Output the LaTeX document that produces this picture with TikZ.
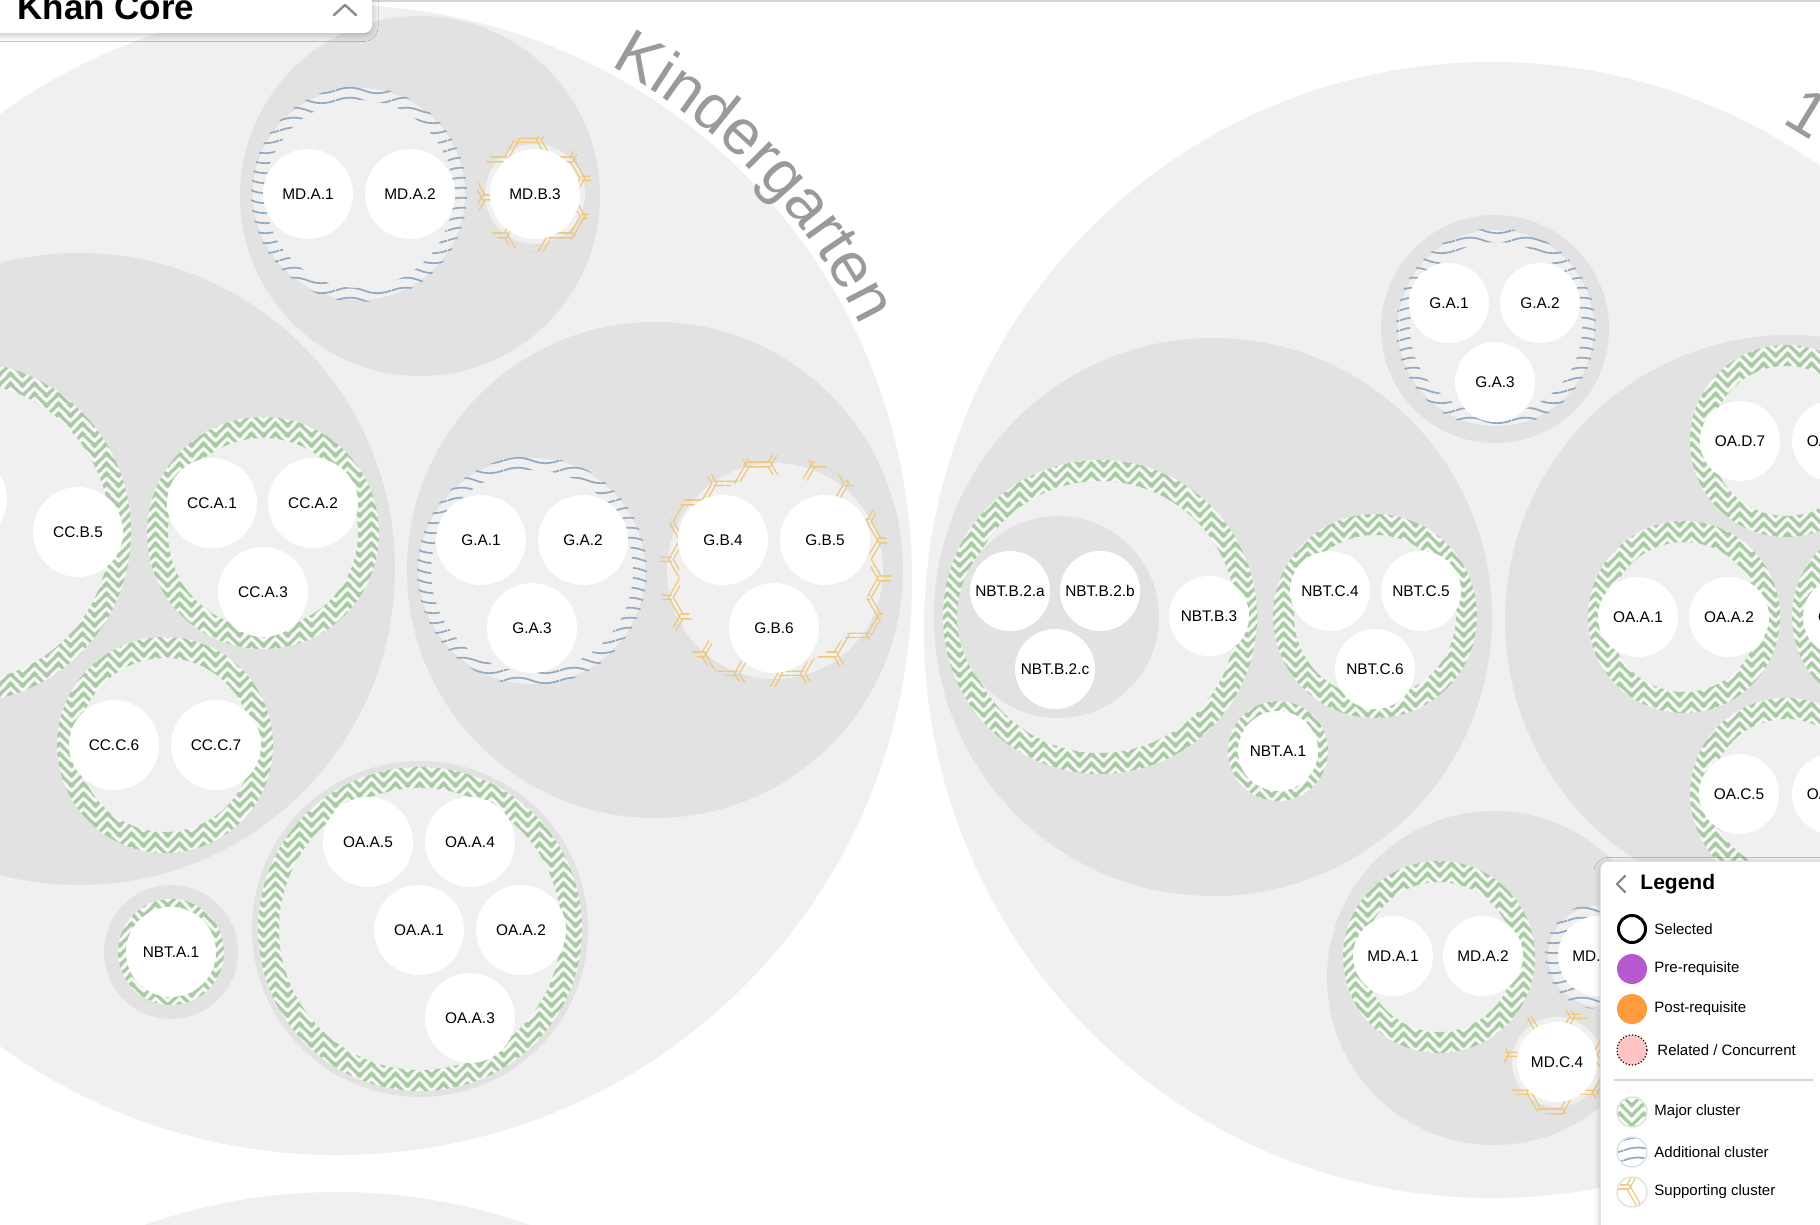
\documentclass[tikz,border=0pt]{standalone}
\usepackage{fontspec}
\setmainfont{Liberation Sans}
\usetikzlibrary{patterns.meta,decorations.text,shadows.blur}

\definecolor{gradegray}{HTML}{F0F0F0}
\definecolor{domaingray}{HTML}{E2E2E2}
\definecolor{palegray}{HTML}{F0F0F0}
\definecolor{ringwhite}{HTML}{F7F7F7}
\definecolor{majorgreen}{HTML}{A9CBA3}
\definecolor{addblue}{HTML}{93AAC0}
\definecolor{suporange}{HTML}{EFC67A}
\definecolor{lblgray}{HTML}{9A9A9A}
\definecolor{prepurple}{HTML}{B75AD0}
\definecolor{postorange}{HTML}{FF9B3E}
\definecolor{relpink}{HTML}{FFC5C5}
\definecolor{panelline}{HTML}{D5D5D5}
\definecolor{chevgray}{HTML}{8C8C8C}

\newcommand{\stdfont}{\fontsize{7.7}{9}\selectfont}
\newcommand{\gradefont}{\fontsize{32}{32}\selectfont}

% cluster textures
\tikzdeclarepattern{
  name=caps, type=uncolored,
  bottom left={(0pt,0pt)}, top right={(12pt,5pt)},
  tile size={(12pt,5pt)},
  code={
    \foreach \k in {-5pt,0pt,5pt}
      \draw[line width=1.7pt] (-6pt,\k+6pt) -- (0pt,\k) -- (6pt,\k+6pt) -- (12pt,\k) -- (18pt,\k+6pt);
  }
}
\tikzdeclarepattern{
  name=waves, type=uncolored,
  bottom left={(0pt,0pt)}, top right={(28pt,5pt)},
  tile size={(28pt,5pt)},
  code={
    \draw[line width=0.95pt] (0pt,2.5pt) .. controls (4.7pt,4.5pt) and (9.3pt,4.5pt) .. (14pt,2.5pt)
      .. controls (18.7pt,0.5pt) and (23.3pt,0.5pt) .. (28pt,2.5pt);
  }
}
\tikzdeclarepattern{
  name=hexes, type=uncolored,
  bottom left={(0pt,0pt)}, top right={(33pt,19.053pt)},
  tile size={(33pt,19.053pt)},
  code={
    \foreach \y in {-9.526pt,9.526pt,28.579pt}{
      \foreach \r in {9.8pt,12.2pt}
        \draw[line width=0.6pt] (16.5pt,\y) ++(0:\r) -- ++(120:\r) -- ++(180:\r) -- ++(240:\r) -- ++(300:\r) -- ++(0:\r) -- cycle;
      \foreach \d in {-1.05pt,1.05pt}{
        \draw[line width=0.6pt] (0pt,\y+\d) -- (6pt,\y+\d);
        \draw[line width=0.6pt] (27pt,\y+\d) -- (33pt,\y+\d);
      }
    }
  }
}

\begin{document}
\begin{tikzpicture}[
    x=0.5pt, y=-0.5pt,
    grade/.style={fill=gradegray},
    dom/.style={fill=domaingray},
    pale/.style={fill=palegray},
    ringbg/.style={fill=ringwhite, even odd rule},
    major/.style={pattern=caps, pattern color=majorgreen, even odd rule},
    addl/.style={pattern=waves, pattern color=addblue, even odd rule},
    supp/.style={pattern=hexes, pattern color=suporange, even odd rule},
    std/.style={circle, fill=white, minimum size=45pt, inner sep=0pt, font=\stdfont},
    stdg/.style={std, minimum size=40pt},
    chev/.style={draw=chevgray, line width=1.2pt, line cap=round, line join=round},
    legicon/.style={circle, minimum size=15pt, inner sep=0pt},
    legtext/.style={anchor=west, inner sep=0pt, font=\fontsize{7.5}{9}\selectfont},
    panel/.style={fill=white, rounded corners=4pt,
                  blur shadow={shadow xshift=0pt, shadow yshift=-1.2pt, shadow blur radius=3pt, shadow opacity=22}}
]
\useasboundingbox (0,0) rectangle (1820,1225);
\clip (0,0) rectangle (1820,1225);
\fill[white] (0,0) rectangle (1820,1225);

% Grade circles
\fill[grade] (337,580) circle[radius=575];
\fill[grade] (1492,630) circle[radius=568];
\fill[grade] (337,1767) circle[radius=575];

% Kindergarten domains
\fill[dom] (420,196) circle[radius=180];
\fill[dom] (79,569) circle[radius=316];
\fill[dom] (655,570) circle[radius=248];
\fill[dom] (420,929) circle[radius=168];
\fill[dom] (171,952) circle[radius=67];

% Kindergarten clusters
\fill[pale] (359,194) circle[radius=106];
\path[addl] (359,194) circle[radius=108] circle[radius=94];
\fill[pale] (535,194) circle[radius=50];
\path[supp] (535,194) circle[radius=58] circle[radius=38];
\fill[pale] (-40,532) circle[radius=171];
\path[ringbg] (-40,532) circle[radius=171] circle[radius=150];
\path[major] (-40,532) circle[radius=171] circle[radius=150];
\fill[pale] (263,533) circle[radius=116];
\path[ringbg] (263,533) circle[radius=116] circle[radius=95];
\path[major] (263,533) circle[radius=116] circle[radius=95];
\fill[pale] (165,745) circle[radius=108];
\path[ringbg] (165,745) circle[radius=108] circle[radius=87];
\path[major] (165,745) circle[radius=108] circle[radius=87];
\fill[pale] (532,571) circle[radius=113];
\path[addl] (532,571) circle[radius=115] circle[radius=101];
\fill[pale] (775,571) circle[radius=108];
\path[supp] (775,571) circle[radius=116] circle[radius=96];
\fill[pale] (420,929) circle[radius=162];
\path[ringbg] (420,929) circle[radius=162] circle[radius=141];
\path[major] (420,929) circle[radius=162] circle[radius=141];
\fill[pale] (171,952) circle[radius=53];
\path[ringbg] (171,952) circle[radius=53] circle[radius=35];
\path[major] (171,952) circle[radius=53] circle[radius=35];

% Grade 1 domains
\fill[dom] (1495,329) circle[radius=114];
\fill[dom] (1213,617) circle[radius=279];
\fill[dom] (1790,620) circle[radius=285];
\fill[dom] (1494,978) circle[radius=167];

% Grade 1 clusters
\fill[pale] (1496,328) circle[radius=98];
\path[addl] (1496,328) circle[radius=100] circle[radius=86];
\fill[pale] (1100,617) circle[radius=157];
\path[ringbg] (1100,617) circle[radius=157] circle[radius=136];
\path[major] (1100,617) circle[radius=157] circle[radius=136];
\fill[dom] (1058,617) circle[radius=101];
\fill[pale] (1375,616) circle[radius=102];
\path[ringbg] (1375,616) circle[radius=102] circle[radius=81];
\path[major] (1375,616) circle[radius=102] circle[radius=81];
\fill[pale] (1278,751) circle[radius=50];
\path[ringbg] (1278,751) circle[radius=50] circle[radius=32];
\path[major] (1278,751) circle[radius=50] circle[radius=32];
\fill[pale] (1786,441) circle[radius=96];
\path[ringbg] (1786,441) circle[radius=96] circle[radius=75];
\path[major] (1786,441) circle[radius=96] circle[radius=75];
\fill[pale] (1684,617) circle[radius=96];
\path[ringbg] (1684,617) circle[radius=96] circle[radius=75];
\path[major] (1684,617) circle[radius=96] circle[radius=75];
\fill[pale] (1888,617) circle[radius=96];
\path[ringbg] (1888,617) circle[radius=96] circle[radius=75];
\path[major] (1888,617) circle[radius=96] circle[radius=75];
\fill[pale] (1786,794) circle[radius=96];
\path[ringbg] (1786,794) circle[radius=96] circle[radius=75];
\path[major] (1786,794) circle[radius=96] circle[radius=75];
\fill[pale] (1439,957) circle[radius=96];
\path[ringbg] (1439,957) circle[radius=96] circle[radius=75];
\path[major] (1439,957) circle[radius=96] circle[radius=75];
\fill[pale] (1598,956) circle[radius=50];
\path[addl] (1598,956) circle[radius=53] circle[radius=39];
\fill[pale] (1557,1062) circle[radius=45];
\path[supp] (1557,1062) circle[radius=53] circle[radius=35];

% Kindergarten standards
\node[std] (KMDA1) at (308,194) {MD.A.1};
\node[std] (KMDA2) at (410,194) {MD.A.2};
\node[std] (KMDB3) at (535,194) {MD.B.3};
\node[std] (KCCB4) at (-38,499) {};
\node[std] (KCCB5) at (78,532) {CC.B.5};
\node[std] (KCCA1) at (212,503) {CC.A.1};
\node[std] (KCCA2) at (313,503) {CC.A.2};
\node[std] (KCCA3) at (263,592) {CC.A.3};
\node[std] (KCCC6) at (114,745) {CC.C.6};
\node[std] (KCCC7) at (216,745) {CC.C.7};
\node[std] (KGA1) at (481,540) {G.A.1};
\node[std] (KGA2) at (583,540) {G.A.2};
\node[std] (KGA3) at (532,628) {G.A.3};
\node[std] (KGB4) at (723,540) {G.B.4};
\node[std] (KGB5) at (825,540) {G.B.5};
\node[std] (KGB6) at (774,628) {G.B.6};
\node[std] (KOAA5) at (368,842) {OA.A.5};
\node[std] (KOAA4) at (470,842) {OA.A.4};
\node[std] (KOAA1) at (419,930) {OA.A.1};
\node[std] (KOAA2) at (521,930) {OA.A.2};
\node[std] (KOAA3) at (470,1018) {OA.A.3};
\node[std] (KNBTA1) at (171,952) {NBT.A.1};

% Grade 1 standards
\node[stdg] (GGA1) at (1449,303) {G.A.1};
\node[stdg] (GGA2) at (1540,303) {G.A.2};
\node[stdg] (GGA3) at (1495,382) {G.A.3};
\node[stdg] (GNBTB2a) at (1010,591) {NBT.B.2.a};
\node[stdg] (GNBTB2b) at (1100,591) {NBT.B.2.b};
\node[stdg] (GNBTB2c) at (1055,669) {NBT.B.2.c};
\node[stdg] (GNBTB3) at (1209,616) {NBT.B.3};
\node[stdg] (GNBTC4) at (1330,591) {NBT.C.4};
\node[stdg] (GNBTC5) at (1421,591) {NBT.C.5};
\node[stdg] (GNBTC6) at (1375,669) {NBT.C.6};
\node[stdg] (GNBTA1) at (1278,751) {NBT.A.1};
\node[stdg] (GOAD7) at (1740,441) {OA.D.7};
\node[stdg] (GOAD8) at (1832,441) {OA\phantom{.D.8}};
\node[stdg] (GOAA1) at (1638,617) {OA.A.1};
\node[stdg] (GOAA2) at (1729,617) {OA.A.2};
\node[stdg] (GOAB) at (1843,617) {O\phantom{A.B.3}};
\node[stdg] (GOAC5) at (1739,794) {OA.C.5};
\node[stdg] (GOAC6) at (1832,794) {OA\phantom{.C.6}};
\node[stdg] (GMDA1) at (1393,956) {MD.A.1};
\node[stdg] (GMDA2) at (1483,956) {MD.A.2};
\node[stdg] (GMDB) at (1598,956) {MD.\phantom{B.3}};
\node[stdg] (GMDC4) at (1557,1062) {MD.C.4};

% Grade labels along the arcs
\path[decorate, decoration={text along path, text align=left, text color=lblgray,
      text={|\gradefont|Kindergarten}}]
  (337,580) ++(-62:582) arc[start angle=-62, end angle=-16, radius=582];
\path[decorate, decoration={text along path, text align=left, text color=lblgray,
      text={|\gradefont|1}}]
  (1492,630) ++(-60.3:584) arc[start angle=-60.3, end angle=-40, radius=584];

% Top bar
\draw[panelline, line width=1pt] (0,1) -- (1820,1);
\path[panel] (-20,-20) rectangle (372,33);
\node[anchor=base west, inner sep=0pt, font=\bfseries\fontsize{17.5}{20}\selectfont] (title) at (17,20) {Khan Core};
\draw[chev] (334,15) -- (345,5) -- (356,15);

% Legend
\path[panel, draw=panelline, line width=0.5pt] (1600,861) rectangle (1870,1270);
\draw[chev] (1625,876) -- (1617,884) -- (1625,892);
\node[anchor=base west, inner sep=0pt, font=\bfseries\fontsize{10.5}{12}\selectfont] (legtitle) at (1640,889) {Legend};
\node[legicon, draw=black, line width=1.5pt, minimum size=13.5pt] (selicon) at (1632,929) {};
\node[legtext] (seltxt) at (1654,929) {Selected};
\node[legicon, fill=prepurple] (preicon) at (1632,969) {};
\node[legtext] (pretxt) at (1654,969) {Pre-requisite};
\node[legicon, fill=postorange] (posticon) at (1632,1009) {};
\node[legtext] (posttxt) at (1654,1009) {Post-requisite};
\node[legicon, fill=relpink, draw=black, densely dotted, line width=0.6pt] (relicon) at (1632,1050) {};
\node[legtext] (reltxt) at (1657,1050) {Related / Concurrent};
\draw[panelline, line width=0.6pt] (1614,1080) -- (1813,1080);
\node[legicon, fill=white, draw=panelline, line width=0.5pt] (majicon) at (1632,1112) {};
\path[pattern=caps, pattern color=majorgreen] (majicon.center) circle[radius=14];
\node[legtext] (majtxt) at (1654,1112) {Major cluster};
\node[legicon, fill=white, draw=panelline, line width=0.5pt] (addicon) at (1632,1152) {};
\path[pattern=waves, pattern color=addblue] (addicon.center) circle[radius=14];
\node[legtext] (addtxt) at (1654,1152) {Additional cluster};
\node[legicon, fill=white, draw=panelline, line width=0.5pt] (supicon) at (1632,1192) {};
\path[pattern=hexes, pattern color=suporange] (supicon.center) circle[radius=14];
\node[legtext] (suptxt) at (1654,1192) {Supporting cluster};

\end{tikzpicture}
\end{document}
